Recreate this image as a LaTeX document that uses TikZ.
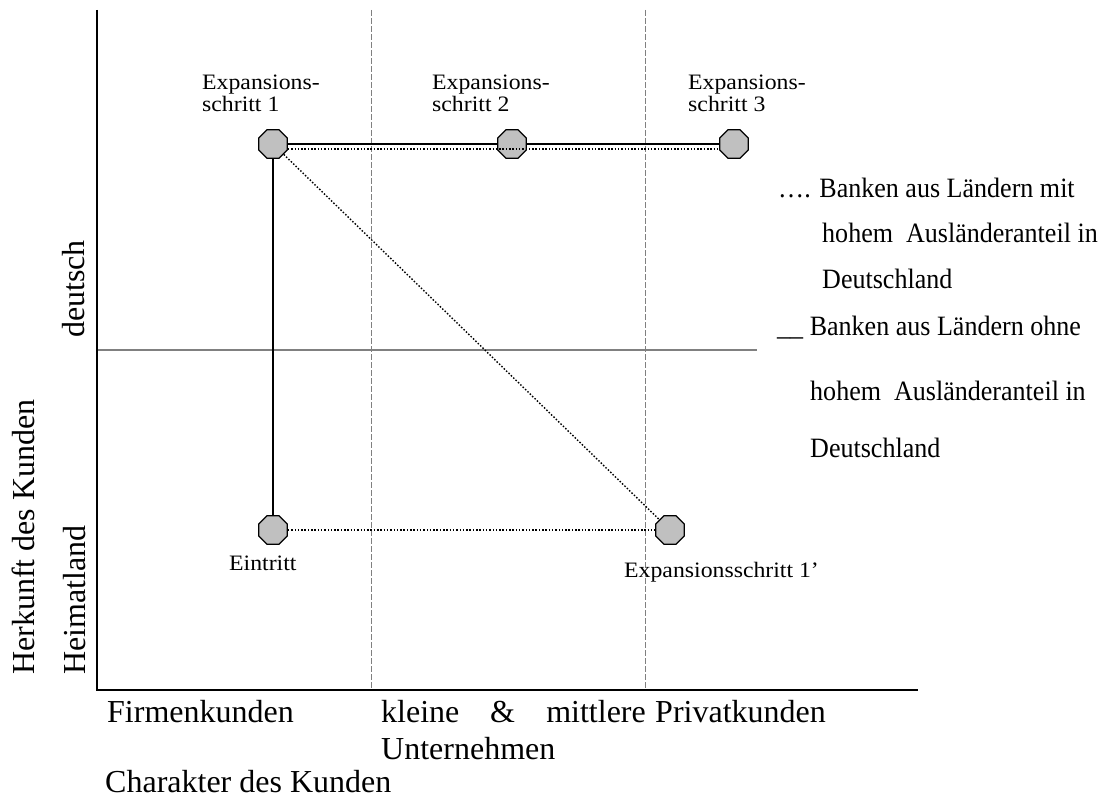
\documentclass[tikz,border=0pt]{standalone}
\usepackage{fontspec}
\setmainfont{Liberation Serif}
\usetikzlibrary{shapes.geometric}
\definecolor{stagegray}{HTML}{C0C0C0}
\definecolor{linegray}{HTML}{808080}
\newcommand\bigfont{\fontsize{32}{37}\selectfont}
\newcommand\legfont{\fontsize{28}{32}\selectfont}
\newcommand\stepfont{\fontsize{22}{22}\selectfont}
\newcommand\legtext[1]{\scalebox{0.93}[1]{\legfont #1}}
\newcommand\steptext[1]{\scalebox{1.08}[1]{\stepfont\begin{tabular}[t]{@{}l@{}}#1\end{tabular}}}
\begin{document}
\begin{tikzpicture}[x=1pt,y=-1pt,
  stage/.style={regular polygon, regular polygon sides=8, minimum size=31pt,
    inner sep=0pt, draw=black, line width=1.3pt, fill=stagegray},
  lbl/.style={inner sep=0pt, anchor=base west},
  axisline/.style={line width=2pt, black},
  divider/.style={linegray, line width=1pt, dash pattern=on 6pt off 2pt},
  midline/.style={linegray, line width=2pt},
  solidlink/.style={line width=1.5pt, black},
  dotlink/.style={line width=1.4pt, black, dash pattern=on 1.5pt off 1.8pt}]
\useasboundingbox (0,0) rectangle (1107,805);

% axes and grid
\coordinate (ytop) at (97,10);
\coordinate (origin) at (97,690);
\coordinate (xend) at (918,690);
\coordinate (d1top) at (371,10);
\coordinate (d1bot) at (371,690);
\coordinate (d2top) at (645,10);
\coordinate (d2bot) at (645,690);
\coordinate (mleft) at (97,350);
\coordinate (mright) at (757,350);
\draw[divider] (d1top) -- (d1bot);
\draw[divider] (d2top) -- (d2bot);
\draw[midline] (mleft) -- (mright);
\draw[axisline] (ytop) -- (origin) -- (xend);

% stages
\node[stage] (e1) at (273,144) {};
\node[stage] (e2) at (512,144) {};
\node[stage] (e3) at (734,144) {};
\node[stage] (ein) at (273,530) {};
\node[stage] (e1p) at (670,530) {};

% paths
\draw[solidlink] (e1) -- (ein);
\draw[solidlink] (e1) -- (e2);
\draw[solidlink] (e2) -- (e3);
\draw[dotlink] ([yshift=-5pt]e1.east) -- ([yshift=-5pt]e3.west);
\draw[dotlink] (e1) -- (e1p);
\draw[dotlink] (ein) -- (e1p);

% stage labels
\node[lbl] (l1) at (202,90) {\steptext{Expansions-\\schritt 1}};
\node[lbl] (l2) at (432,90) {\steptext{Expansions-\\schritt 2}};
\node[lbl] (l3) at (688,90) {\steptext{Expansions-\\schritt 3}};
\node[lbl] (lein) at (229,570) {\steptext{Eintritt}};
\node[lbl] (l1p) at (624,577) {\steptext{Expansionsschritt 1’}};

% legend
\node[lbl] (g1) at (778,197) {\legtext{…. Banken aus Ländern mit}};
\node[lbl] (g2) at (822,242) {\legtext{hohem\ \ Ausländeranteil in}};
\node[lbl] (g3) at (822,288) {\legtext{Deutschland}};
\node[lbl] (g4) at (777,335) {\legtext{\_\_ Banken aus Ländern ohne}};
\node[lbl] (g5) at (810,400) {\legtext{hohem\ \ Ausländeranteil in}};
\node[lbl] (g6) at (810,457) {\legtext{Deutschland}};

% axis captions
\node[lbl, font=\bigfont] (xa) at (107,722) {Firmenkunden};
\node[lbl, font=\bigfont] (xb1) at (381,722) {kleine};
\node[lbl, font=\bigfont] (xb2) at (490,722) {\&};
\node[inner sep=0pt, anchor=base east, font=\bigfont] (xb3) at (646,722) {mittlere};
\node[lbl, font=\bigfont] (xb4) at (381,759) {Unternehmen};
\node[lbl, font=\bigfont] (xc) at (655,722) {Privatkunden};
\node[lbl, font=\bigfont] (xt) at (105,792) {Charakter des Kunden};

\node[lbl, font=\bigfont, rotate=90] (yt) at (34,675) {Herkunft des Kunden};
\node[lbl, font=\bigfont, rotate=90] (ya) at (85,675) {Heimatland};
\node[lbl, font=\bigfont, rotate=90] (yb) at (84,338) {deutsch};
\end{tikzpicture}
\end{document}
